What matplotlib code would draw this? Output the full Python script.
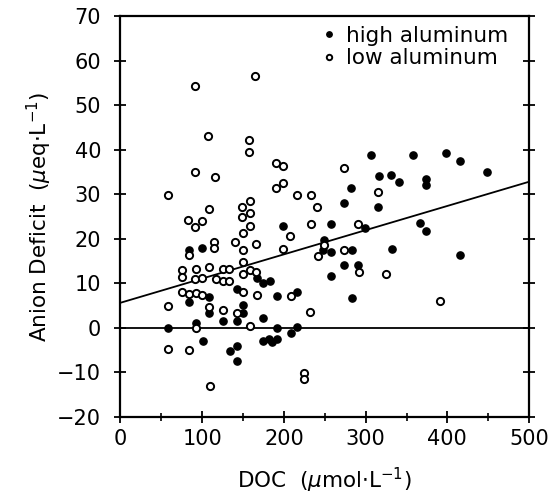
import matplotlib
matplotlib.use("Agg")
import matplotlib.pyplot as plt
import numpy as np

# High aluminum (filled) points: DOC, anion deficit
high_doc = [58.5, 84.2, 84.2, 92.4, 100.1, 100.5, 108.6, 108.6, 125.0, 133.5,
            142.1, 142.1, 142.1, 142.1, 150.2, 150.2, 167.3, 174.7, 182.9, 174.7,
            174.7, 182.0, 186.0, 191.8, 191.0, 191.5, 198.9, 208.2, 216.5, 216.5,
            248.5, 248.1, 257.3, 257.5, 257.5, 273.6, 273.6, 282.8, 282.5, 282.8,
            291.1, 299.1, 306.4, 315.8, 315.0, 330.9, 332.1, 340.7, 357.8, 366.0,
            373.3, 373.3, 373.7, 397.8, 415.3, 415.3, 448.0]
high_ad = [-0.1, 17.5, 5.7, 1.0, 18.0, -3.1, 7.0, 3.4, 1.6, -5.2,
           8.6, 1.6, -4.1, -7.5, 5.2, 3.2, 11.1, 10.0, 10.5, 2.1,
           -2.9, -2.5, -3.3, -2.6, -0.1, 7.1, 22.8, -1.2, 8.1, 0.1,
           19.7, 17.5, 17.1, 23.2, 11.6, 28.0, 14.2, 17.5, 31.3, 6.7,
           14.1, 22.3, 38.8, 34.2, 27.2, 34.3, 17.7, 32.7, 38.8, 23.5,
           33.4, 32.1, 21.7, 39.2, 37.5, 16.3, 34.9]

# Low aluminum (open) points
low_doc = [58.1, 58.5, 58.5, 74.8, 74.8, 74.8, 83.0, 84.2, 84.2, 84.2,
           90.8, 91.5, 91.5, 92.2, 91.5, 92.2, 92.4, 99.7, 100.3, 100.3,
           107.4, 107.9, 108.6, 108.6, 109.5, 114.5, 114.5, 116.0, 116.8, 125.0,
           125.0, 125.0, 133.1, 133.1, 140.0, 142.1, 149.0, 149.0, 150.2, 150.2,
           150.2, 150.2, 150.2, 157.6, 157.6, 158.0, 158.0, 158.0, 158.4, 158.8,
           164.9, 166.0, 166.6, 166.0, 190.2, 198.8, 190.2, 198.8, 199.1, 208.0,
           208.2, 215.9, 225.0, 225.0, 232.6, 232.6, 232.0, 241.0, 241.4, 248.9,
           273.4, 273.8, 290.9, 291.4, 315.4, 324.4, 390.8]
low_ad = [29.8, 4.9, -4.8, 13.0, 11.5, 8.1, 24.2, 16.4, 7.6, -5.0,
          54.3, 34.9, 22.6, 13.2, 11.0, 7.9, -0.1, 23.9, 11.1, 7.4,
          43.1, 26.7, 13.6, 4.7, -13.0, 19.3, 18.0, 33.9, 11.0, 13.3,
          10.6, 3.9, 13.2, 10.5, 19.2, 3.3, 27.1, 24.8, 21.3, 17.4,
          14.7, 12.1, 8.1, 42.2, 39.4, 28.5, 25.7, 22.9, 13.0, 0.4,
          56.6, 18.9, 7.4, 12.5, 36.9, 36.3, 31.5, 32.5, 17.7, 20.5,
          7.1, 29.8, -10.2, -11.6, 29.8, 23.4, 3.6, 27.1, 16.1, 18.5,
          35.8, 17.5, 23.2, 12.5, 30.6, 12.0, 6.1]

# Regression line
fit_x = [0, 500]
fit_y = [5.6, 32.8]

xticks = [0, 100, 200, 300, 400, 500]
yticks = [-20, -10, 0, 10, 20, 30, 40, 50, 60, 70]

plt.rcParams['font.family'] = ['DejaVu Sans']
plt.rcParams['axes.unicode_minus'] = True

fig = plt.figure(figsize=(5.5, 4.97), dpi=100)
ax = fig.add_axes([0.219, 0.1616, 0.743, 0.8058])

ax.plot(high_doc, high_ad, 'o', color='black', markersize=5.2, label='high aluminum', zorder=3)
ax.plot(low_doc, low_ad, 'o', markerfacecolor='white', markeredgecolor='black',
        markeredgewidth=1.4, markersize=5.2, label='low aluminum', zorder=3)
ax.plot(fit_x, fit_y, color='black', linewidth=1.3, zorder=2)
ax.axhline(0, color='black', linewidth=1.3, zorder=2)

ax.set_xlim(0, 500)
ax.set_ylim(-20, 70)
ax.set_xticks(xticks)
ax.set_yticks(yticks)
ax.set_xticks([50, 150, 250, 350, 450], minor=True)
ax.tick_params(axis='both', which='major', direction='inout', length=8, width=1.3,
               labelsize=15, right=True)
ax.tick_params(axis='y', which='major', pad=10)
ax.tick_params(axis='x', which='major', pad=5)
ax.tick_params(axis='x', which='minor', direction='inout', length=6, width=1.2)
for s in ax.spines.values():
    s.set_linewidth(1.6)

ax.set_xlabel(r'DOC  ($\mu$mol$\cdot$L$^{-1}$)', fontsize=15.5, labelpad=12)
ax.set_ylabel(r'Anion Deficit  ($\mu$eq$\cdot$L$^{-1}$)', fontsize=15.5, labelpad=2)

leg = ax.legend(loc='upper left', bbox_to_anchor=(0.463, 0.997), frameon=False,
                fontsize=15.5, handletextpad=0.3, handlelength=1.0, markerscale=0.75,
                labelspacing=0.1, borderaxespad=0.0)

fig.savefig('out.png', dpi=100)
